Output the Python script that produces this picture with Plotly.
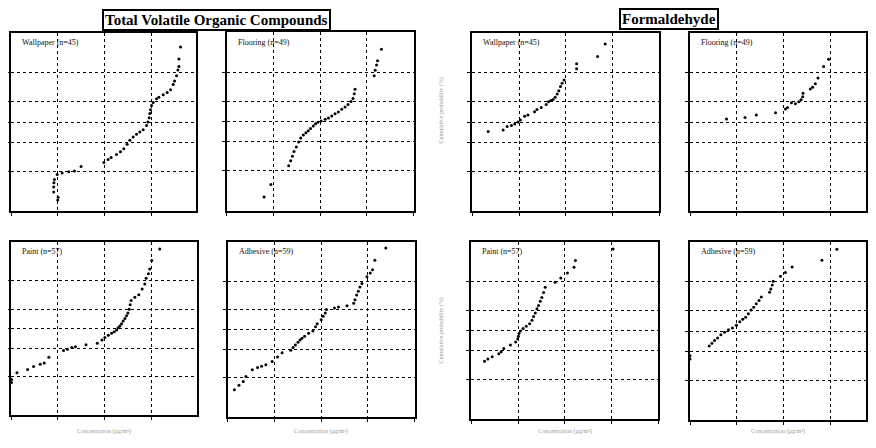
import plotly.graph_objects as go
from statistics import NormalDist

# page has an 8px body margin: figure is sized so it fits the 876x448 window exactly
OFF = 8
W, H = 876 - 2 * OFF, 448 - 2 * OFF

# ---------------- data (concentration in ug/m3, normal score of cumulative probability) -------------
tvoc_wallpaper_conc = [10.0, 10.2, 8.2, 8.2, 8.3, 8.5, 9.7, 12.4, 17.2, 22.8, 31.6, 97, 120, 139, 181, 220, 259,
                       306, 349, 411, 485, 571, 674, 794, 849, 906, 936, 968, 1017, 1104, 1300, 1459, 1807, 2203,
                       2594, 2960, 3162, 3490, 3727, 3917, 3917, 4253]
tvoc_wallpaper_z = [-2.04, -1.97, -1.83, -1.70, -1.59, -1.50, -1.37, -1.33, -1.30, -1.28, -1.16, -1.06, -0.98, -0.93,
                    -0.85, -0.78, -0.70, -0.58, -0.48, -0.39, -0.32, -0.26, -0.20, -0.09, 0.0, 0.11, 0.22, 0.32, 0.43,
                    0.51, 0.61, 0.65, 0.71, 0.77, 0.84, 0.98, 1.07, 1.21, 1.36, 1.45, 1.65, 1.96]

tvoc_flooring_conc = [6.3, 8.8, 21.2, 23.4, 25.4, 27.5, 30.9, 34.6, 38.2, 43.5, 49.5, 55.6, 62.2, 71.0, 79.6, 89.1,
                      105, 128, 150, 177, 208, 245, 289, 340, 394, 457, 504, 537, 556, 1432, 1504, 1607, 1687, 2051]
tvoc_flooring_z = [-1.96, -1.64, -1.15, -1.02, -0.90, -0.78, -0.66, -0.53, -0.43, -0.35, -0.29, -0.24, -0.18, -0.12,
                   -0.06, -0.02, 0.01, 0.06, 0.09, 0.14, 0.20, 0.25, 0.32, 0.38, 0.44, 0.52, 0.60, 0.72, 0.84, 1.19,
                   1.33, 1.47, 1.58, 1.88]

tvoc_paint_conc = [1.02, 1.03, 1.34, 2.27, 3.04, 4.22, 5.13, 6.46, 13.3, 16.1, 20.0, 23.9, 40.3, 70.3, 88.5, 102,
                   121, 142, 162, 182, 197, 214, 232, 252, 274, 297, 317, 338, 355, 373, 447, 543, 640, 730, 779,
                   874, 933, 1029, 1524]
tvoc_paint_z = [-1.45, -1.37, -1.19, -1.10, -1.02, -0.96, -0.93, -0.77, -0.59, -0.56, -0.51, -0.49, -0.44, -0.40,
                -0.31, -0.24, -0.18, -0.13, -0.09, -0.04, 0.02, 0.07, 0.13, 0.20, 0.27, 0.34, 0.42, 0.52, 0.64,
                0.75, 0.84, 0.91, 1.06, 1.20, 1.35, 1.47, 1.60, 1.83, 2.14]

tvoc_adhesive_conc = [1.39, 1.74, 2.15, 2.45, 3.35, 4.35, 5.29, 6.54, 8.92, 11.6, 14.6, 22.3, 25.0, 28.0, 31.9,
                      35.2, 38.8, 44.2, 53.7, 66.5, 75.7, 82.2, 100, 110, 122, 130, 192, 234, 357, 495, 529, 574,
                      623, 676, 745, 952, 1122, 1256, 1409, 2415]
tvoc_adhesive_z = [-1.60, -1.48, -1.38, -1.25, -1.07, -1.01, -0.98, -0.94, -0.85, -0.73, -0.62, -0.55, -0.48,
                   -0.41, -0.34, -0.28, -0.23, -0.18, -0.10, -0.04, 0.07, 0.15, 0.26, 0.35, 0.44, 0.53, 0.57, 0.60,
                   0.63, 0.70, 0.79, 0.92, 1.02, 1.13, 1.22, 1.40, 1.50, 1.59, 1.84, 2.17]

hcho_wallpaper_conc = [2.19, 4.57, 5.56, 6.87, 8.09, 9.52, 10.7, 13.2, 15.5, 21.5, 24.2, 29.9, 38.2, 42.8, 48.0,
                       53.7, 59.3, 65.5, 71.0, 77.1, 83.6, 92.2, 171, 171, 480, 698]
hcho_wallpaper_z = [-0.25, -0.21, -0.12, -0.09, -0.05, 0.0, 0.05, 0.15, 0.18, 0.27, 0.33, 0.38, 0.46, 0.53, 0.56,
                    0.59, 0.65, 0.73, 0.82, 0.93, 1.01, 1.10, 1.39, 1.52, 1.71, 2.04]

hcho_flooring_conc = [6.03, 15.0, 26.2, 67.6, 110, 122, 148, 180, 212, 238, 258, 262, 375, 421, 480, 547, 721, 922]
hcho_flooring_z = [0.08, 0.12, 0.18, 0.24, 0.34, 0.38, 0.50, 0.48, 0.53, 0.58, 0.66, 0.75, 0.86, 0.91, 1.00, 1.15,
                   1.45, 1.64]

hcho_paint_conc = [1.92, 2.26, 2.80, 3.88, 4.35, 4.95, 6.87, 8.92, 9.84, 10.2, 10.5, 11.2, 12.8, 15.0, 17.7, 19.9,
                   21.5, 23.4, 25.4, 27.5, 29.9, 32.4, 35.2, 38.2, 62.2, 82.2, 114, 158, 169, 1084]
hcho_paint_z = [-0.81, -0.75, -0.69, -0.61, -0.56, -0.47, -0.38, -0.30, -0.22, -0.15, -0.08, -0.01, 0.05, 0.11,
                0.18, 0.27, 0.37, 0.46, 0.57, 0.66, 0.77, 0.87, 1.00, 1.14, 1.27, 1.38, 1.51, 1.66, 1.84, 2.14]

hcho_adhesive_conc = [1.0, 1.0, 2.58, 2.94, 3.35, 3.88, 4.57, 5.47, 6.65, 8.09, 9.84, 11.6, 13.4, 15.5, 17.7, 20.2,
                      23.0, 26.2, 29.9, 33.5, 50.4, 53.7, 57.4, 60.3, 86.3, 110, 153, 665, 1387]
hcho_adhesive_z = [-0.65, -0.73, -0.39, -0.32, -0.25, -0.18, -0.10, -0.03, 0.03, 0.08, 0.15, 0.24, 0.31, 0.36,
                   0.45, 0.55, 0.62, 0.71, 0.80, 0.89, 1.01, 1.10, 1.20, 1.30, 1.43, 1.53, 1.67, 1.85, 2.14]

panel_labels = ["Wallpaper (n=45)", "Flooring (n=49)", "Paint (n=57)", "Adhesive (n=59)"]
group_titles = ["Total Volatile Organic Compounds", "Formaldehyde"]
prob_ticks = [10, 30, 50, 70, 90]
prob_range = [1, 99]
x_title = "Concentration (µg/m³)"
y_title = "Cumulative probability (%)"

# ---------------- layout (pixel boxes in window coordinates) ----------------
panels = [
    (tvoc_wallpaper_conc, tvoc_wallpaper_z, panel_labels[0], (8, 194, 33, 211)),
    (tvoc_flooring_conc, tvoc_flooring_z, panel_labels[1], (225, 413, 32, 211)),
    (hcho_wallpaper_conc, hcho_wallpaper_z, panel_labels[0], (472, 660, 33, 211)),
    (hcho_flooring_conc, hcho_flooring_z, panel_labels[1], (691, 868, 33, 211)),
    (tvoc_paint_conc, tvoc_paint_z, panel_labels[2], (8, 195, 242, 415)),
    (tvoc_adhesive_conc, tvoc_adhesive_z, panel_labels[3], (226, 414, 242, 417)),
    (hcho_paint_conc, hcho_paint_z, panel_labels[2], (471, 659, 242, 419)),
    (hcho_adhesive_conc, hcho_adhesive_z, panel_labels[3], (691, 868, 242, 420)),
]


def px(x):
    return min(1.0, max(0.0, (x - OFF) / W))


def py(y):
    return min(1.0, max(0.0, 1 - (y - OFF) / H))


nd = NormalDist()
tickvals = [nd.inv_cdf(p / 100) for p in prob_ticks]
yrange = [nd.inv_cdf(prob_range[0] / 100), nd.inv_cdf(prob_range[1] / 100)]

fig = go.Figure()
annotations = []
for i, (xs, ys, label, (x0, x1, y0, y1)) in enumerate(panels):
    n = i + 1
    xa = "x" if n == 1 else f"x{n}"
    ya = "y" if n == 1 else f"y{n}"
    fig.add_trace(go.Scatter(x=xs, y=ys, mode="markers", xaxis=xa, yaxis=ya,
                             marker=dict(color="black", size=3), showlegend=False, cliponaxis=False))
    xr = [0, 4 * (x1 - x0) / 188]
    axx = dict(domain=[px(x0), px(x1)], anchor=ya, type="log", range=xr, dtick=1,
               showgrid=True, gridcolor="black", griddash="dot", gridwidth=1,
               showline=True, linecolor="black", linewidth=2, mirror=True,
               ticks="outside", ticklen=3, tickcolor="black", showticklabels=False, zeroline=False)
    axy = dict(domain=[py(y1), py(y0)], anchor=xa, range=yrange, tickvals=tickvals,
               showgrid=True, gridcolor="black", griddash="dot", gridwidth=1,
               showline=True, linecolor="black", linewidth=2, mirror=True,
               ticks="outside", ticklen=3, tickcolor="black", showticklabels=False, zeroline=False)
    fig.update_layout(**{("xaxis" if n == 1 else f"xaxis{n}"): axx,
                         ("yaxis" if n == 1 else f"yaxis{n}"): axy})
    annotations.append(dict(x=px(x0 + 9), y=py(y0 + 10), xref="paper", yref="paper",
                            xanchor="left", yanchor="middle", text=label, showarrow=False,
                            font=dict(family="Liberation Serif", size=8, color="#111")))
    if y0 > 230:
        annotations.append(dict(x=px((x0 + x1) / 2), y=py(431), xref="paper", yref="paper",
                                xanchor="center", yanchor="middle", text=x_title, showarrow=False,
                                font=dict(family="Liberation Serif", size=6, color="#9a9a9a")))

for cy in (110, 330):
    annotations.append(dict(x=px(441), y=py(cy), xref="paper", yref="paper", text=y_title, textangle=-90,
                            xanchor="center", yanchor="middle", showarrow=False,
                            font=dict(family="Liberation Serif", size=6, color="#9a9a9a")))

annotations.append(dict(x=px(215), y=py(20), xref="paper", yref="paper", xanchor="center", yanchor="middle",
                        text="<b>" + group_titles[0] + "</b>",
                        showarrow=False, bordercolor="black", borderwidth=2, borderpad=1, bgcolor="white",
                        font=dict(family="Liberation Serif", size=15, color="black")))
annotations.append(dict(x=px(670), y=py(19), xref="paper", yref="paper", xanchor="center", yanchor="middle",
                        text="<b>" + group_titles[1] + "</b>",
                        showarrow=False, bordercolor="black", borderwidth=2, borderpad=1, bgcolor="white",
                        font=dict(family="Liberation Serif", size=15, color="black")))

fig.update_layout(width=W, height=H, margin=dict(l=0, r=0, t=0, b=0),
                  paper_bgcolor="white", plot_bgcolor="white", annotations=annotations)

fig.write_html("out.html")
